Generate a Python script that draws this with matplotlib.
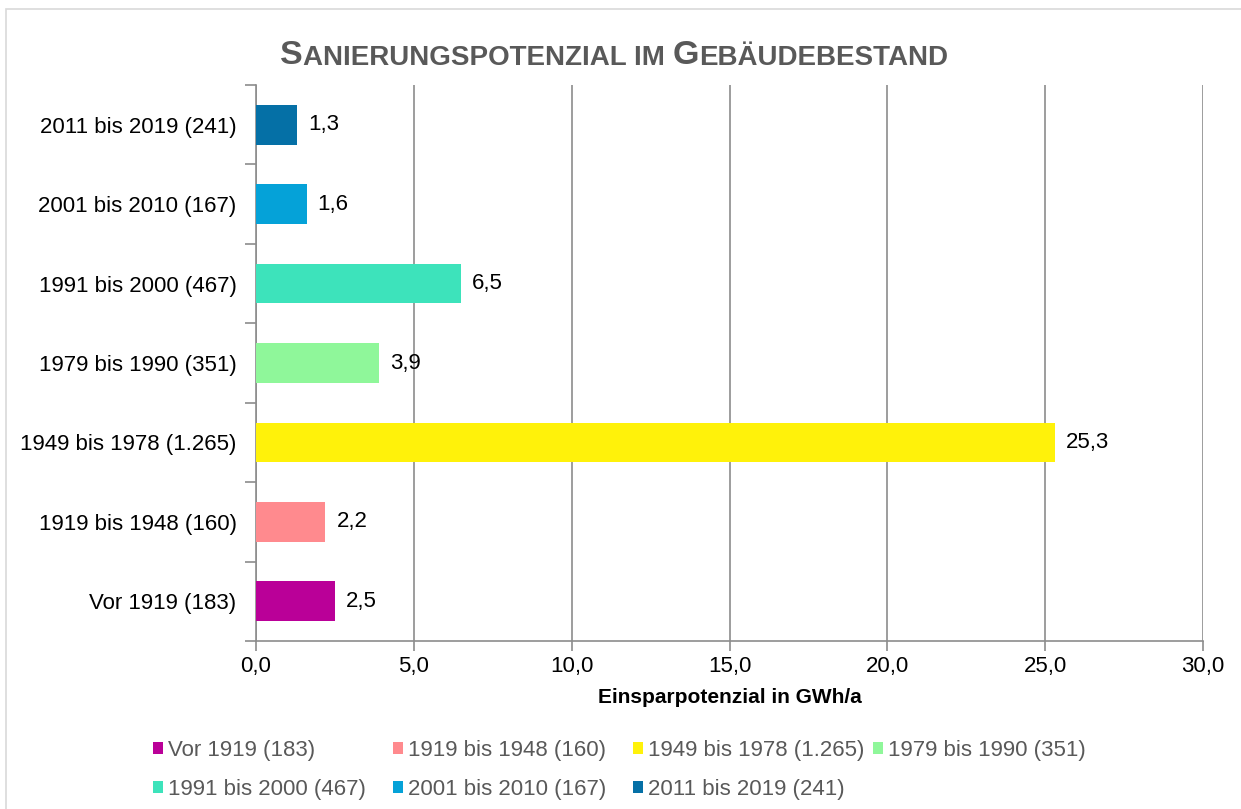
import matplotlib
matplotlib.use("Agg")
import matplotlib.pyplot as plt
from matplotlib.patches import Rectangle

plt.rcParams['font.family'] = ['Liberation Sans', 'DejaVu Sans']

# data (bottom to top)
kategorien = ["Vor 1919 (183)", "1919 bis 1948 (160)", "1949 bis 1978 (1.265)",
              "1979 bis 1990 (351)", "1991 bis 2000 (467)", "2001 bis 2010 (167)",
              "2011 bis 2019 (241)"]
werte = [2.5, 2.2, 25.3, 3.9, 6.5, 1.6, 1.3]
farben = ["#BA0098", "#FF8A8E", "#FFF20A", "#8FF79A", "#3DE3BB", "#05A2D8", "#0570A6"]
x_ticks = [0, 5, 10, 15, 20, 25, 30]

fig = plt.figure(figsize=(12.41, 8.09), dpi=100)
ax = fig.add_axes([256/1241, 1-641/809, (1203-256)/1241, (641-85)/809])

# outer frame
fig.patches.append(Rectangle((6/1241, -0.05), 1.1, 1-9/809+0.05, transform=fig.transFigure,
                             fill=False, edgecolor="#D9D9D9", linewidth=1.2))

bars = []
for i in range(len(kategorien)):
    b = ax.barh(i, werte[i], height=0.5, color=farben[i], label=kategorien[i], zorder=3)
    bars.append(b)
    ax.annotate(f"{werte[i]:.1f}".replace(".", ","), xy=(werte[i], i), xytext=(8, 0),
                textcoords="offset points", va="center", ha="left", fontsize=16, color="black")

ax.set_xlim(0, 30)
ax.set_ylim(-0.5, 6.5)
ax.set_xticks(x_ticks)
ax.set_xticklabels([f"{t:.1f}".replace(".", ",") for t in x_ticks], fontsize=16)
ax.set_yticks(range(len(kategorien)))
ax.set_yticklabels(kategorien, fontsize=16)
ax.set_yticks([i - 0.5 for i in range(len(kategorien) + 1)], minor=True)
ax.tick_params(axis="y", which="major", length=0, pad=14)
ax.tick_params(axis="y", which="minor", length=8, width=1.2, color="#8C8C8C")
ax.tick_params(axis="x", length=7, width=1.2, color="#8C8C8C", pad=4)
ax.grid(axis="x", color="#8C8C8C", linewidth=1.2, zorder=0)
for s in ["top", "right"]:
    ax.spines[s].set_visible(False)
for s in ["left", "bottom"]:
    ax.spines[s].set_color("#8C8C8C")
    ax.spines[s].set_linewidth(1.2)

ax.set_xlabel("Einsparpotenzial in GWh/a", fontsize=15, fontweight="bold", labelpad=8)

# title in small caps
teile = [("S", 24.5), ("ANIERUNGSPOTENZIAL IM ", 20), ("G", 24.5), ("EBÄUDEBESTAND", 20)]
prev = fig.text(280/1241, 1-71/809, teile[0][0], fontsize=teile[0][1], fontweight="bold",
                color="#595959", va="bottom", ha="left")
for txt, size in teile[1:]:
    prev = ax.annotate(txt, xy=(1, 0), xycoords=prev, va="bottom", ha="left",
                       fontsize=size, fontweight="bold", color="#595959",
                       annotation_clip=False)

# legend: one legend per column, like the fixed columns in the original
spalten = [[0, 4], [1, 5], [2, 6], [3]]
spalten_x = [153, 393, 633, 873]
for idx, x0 in zip(spalten, spalten_x):
    leg = fig.legend([bars[i] for i in idx], [kategorien[i] for i in idx],
                     ncol=1, loc="upper left", bbox_to_anchor=(x0/1241, 1-740/809),
                     frameon=False, fontsize=16, handlelength=0.45, handleheight=0.45,
                     handletextpad=0.22, labelspacing=0.82,
                     borderaxespad=0, borderpad=0)
    for t in leg.get_texts():
        t.set_color("#595959")

plt.savefig("out.png", dpi=100)
